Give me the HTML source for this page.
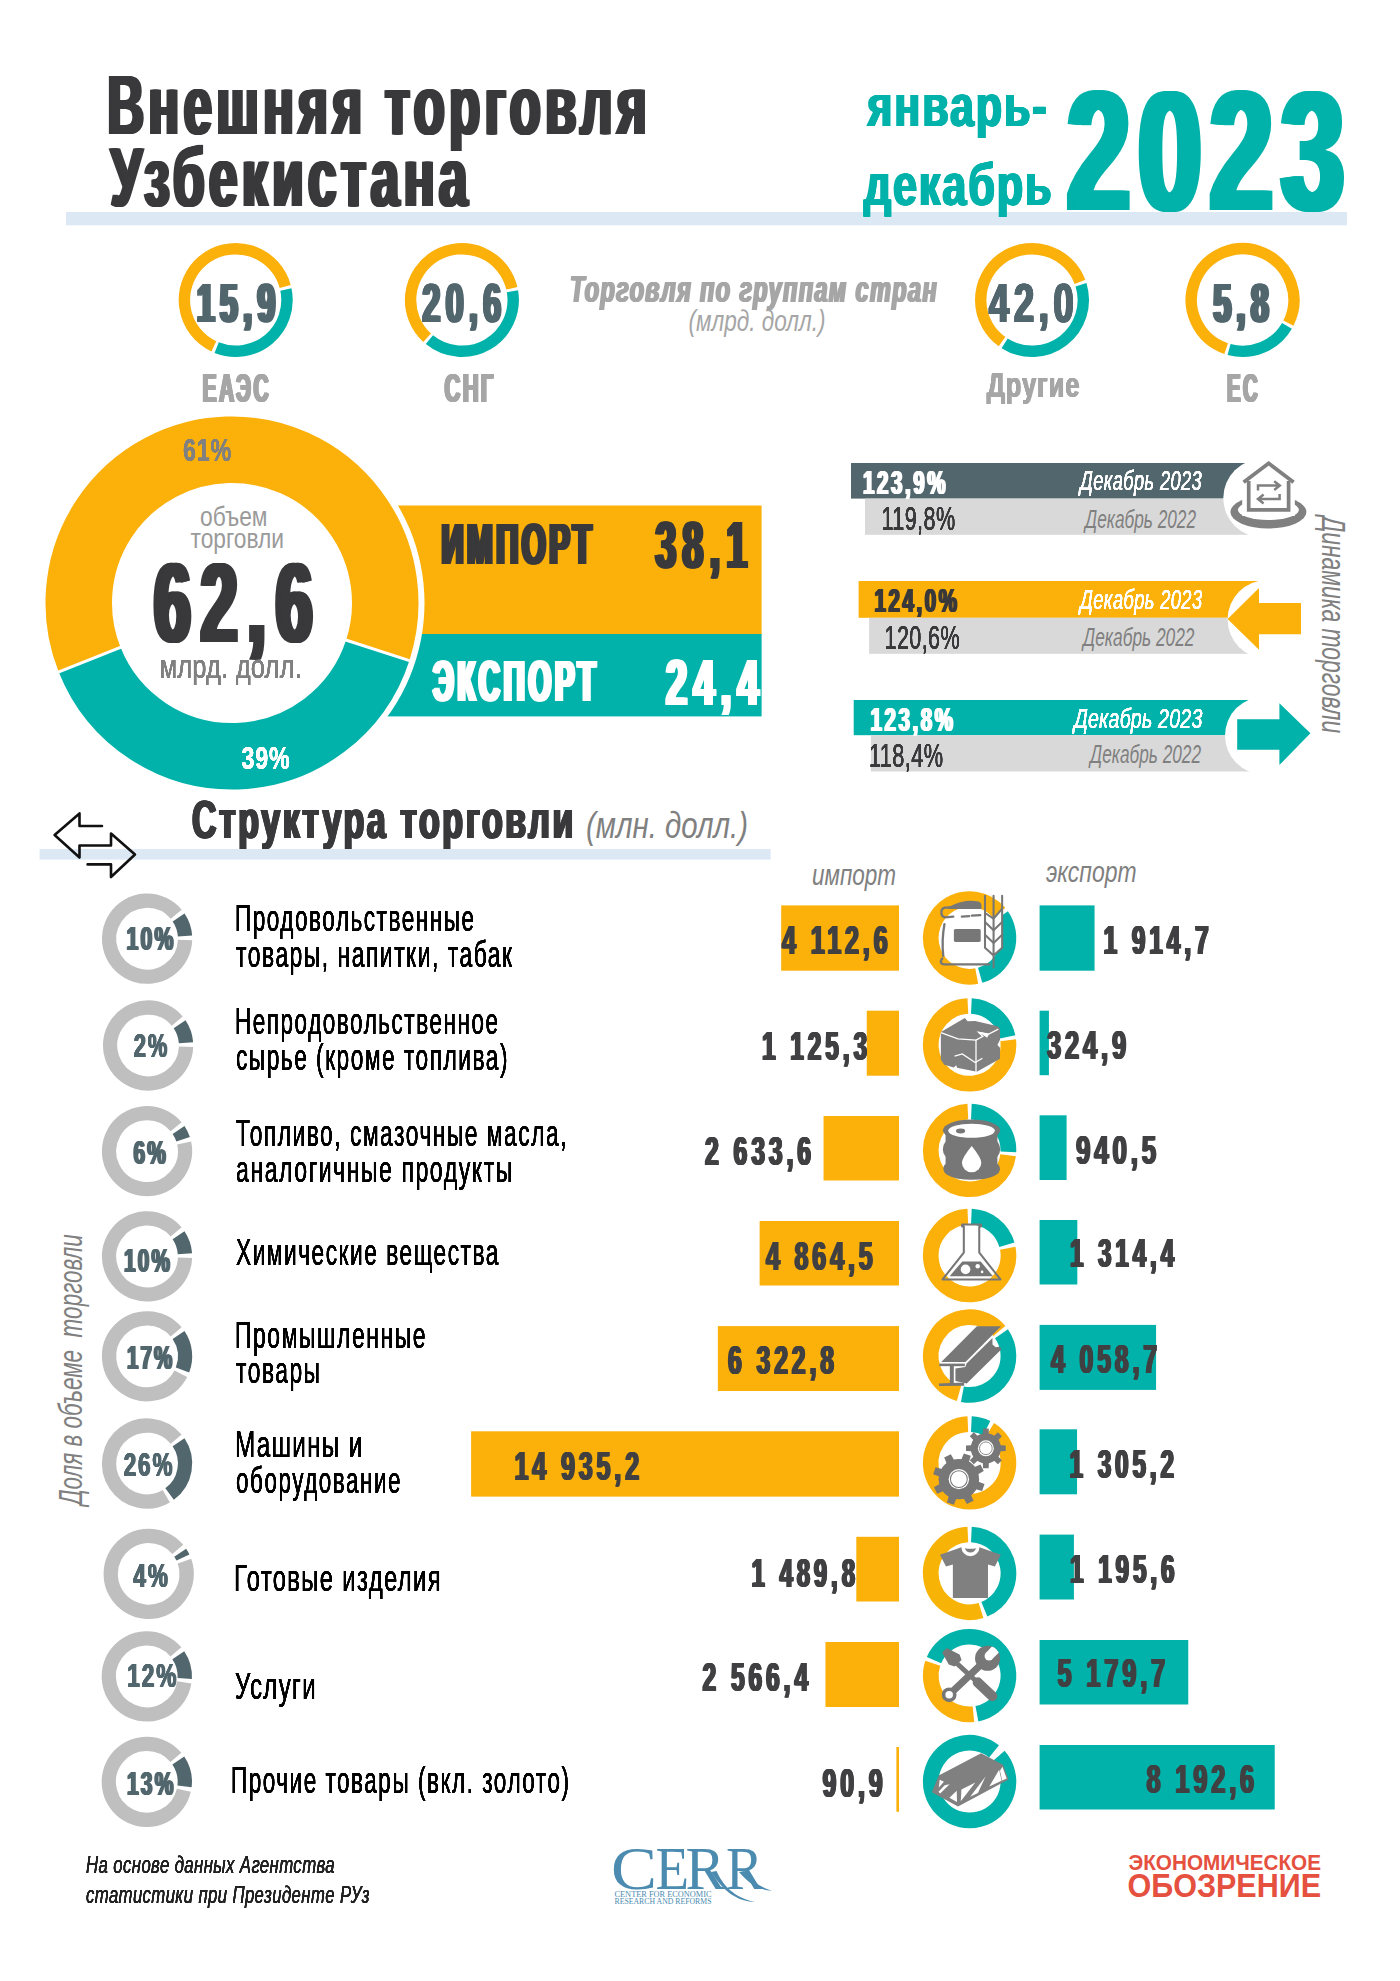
<!DOCTYPE html>
<html lang="ru"><head><meta charset="utf-8"><title>Внешняя торговля Узбекистана</title>
<style>
html,body{margin:0;padding:0;background:#fff;}
body{width:1400px;height:1981px;overflow:hidden;font-family:"Liberation Sans",sans-serif;}
svg{display:block;}
text{white-space:pre;}
</style></head><body>
<svg width="1400" height="1981" viewBox="0 0 1400 1981">
<defs><filter id="d23" x="-5%" width="110%" y="-25%" height="150%" color-interpolation-filters="sRGB"><feOffset in="SourceGraphic" dx="-2.30" result="a"/><feOffset in="SourceGraphic" dx="-1.15" result="b"/><feOffset in="SourceGraphic" dx="1.15" result="c"/><feOffset in="SourceGraphic" dx="2.30" result="e"/><feMerge><feMergeNode in="a"/><feMergeNode in="b"/><feMergeNode in="SourceGraphic"/><feMergeNode in="c"/><feMergeNode in="e"/></feMerge></filter><filter id="d10" x="-5%" width="110%" y="-25%" height="150%" color-interpolation-filters="sRGB"><feOffset in="SourceGraphic" dx="-1.00" result="a"/><feOffset in="SourceGraphic" dx="-0.50" result="b"/><feOffset in="SourceGraphic" dx="0.50" result="c"/><feOffset in="SourceGraphic" dx="1.00" result="e"/><feMerge><feMergeNode in="a"/><feMergeNode in="b"/><feMergeNode in="SourceGraphic"/><feMergeNode in="c"/><feMergeNode in="e"/></feMerge></filter><filter id="d41" x="-5%" width="110%" y="-25%" height="150%" color-interpolation-filters="sRGB"><feOffset in="SourceGraphic" dx="-4.10" result="a"/><feOffset in="SourceGraphic" dx="-2.05" result="b"/><feOffset in="SourceGraphic" dx="2.05" result="c"/><feOffset in="SourceGraphic" dx="4.10" result="e"/><feMerge><feMergeNode in="a"/><feMergeNode in="b"/><feMergeNode in="SourceGraphic"/><feMergeNode in="c"/><feMergeNode in="e"/></feMerge></filter><filter id="d16" x="-5%" width="110%" y="-25%" height="150%" color-interpolation-filters="sRGB"><feOffset in="SourceGraphic" dx="-1.60" result="a"/><feOffset in="SourceGraphic" dx="-0.80" result="b"/><feOffset in="SourceGraphic" dx="0.80" result="c"/><feOffset in="SourceGraphic" dx="1.60" result="e"/><feMerge><feMergeNode in="a"/><feMergeNode in="b"/><feMergeNode in="SourceGraphic"/><feMergeNode in="c"/><feMergeNode in="e"/></feMerge></filter><filter id="d12" x="-5%" width="110%" y="-25%" height="150%" color-interpolation-filters="sRGB"><feOffset in="SourceGraphic" dx="-1.20" result="a"/><feOffset in="SourceGraphic" dx="-0.60" result="b"/><feOffset in="SourceGraphic" dx="0.60" result="c"/><feOffset in="SourceGraphic" dx="1.20" result="e"/><feMerge><feMergeNode in="a"/><feMergeNode in="b"/><feMergeNode in="SourceGraphic"/><feMergeNode in="c"/><feMergeNode in="e"/></feMerge></filter><filter id="d15" x="-5%" width="110%" y="-25%" height="150%" color-interpolation-filters="sRGB"><feOffset in="SourceGraphic" dx="-1.50" result="a"/><feOffset in="SourceGraphic" dx="-0.75" result="b"/><feOffset in="SourceGraphic" dx="0.75" result="c"/><feOffset in="SourceGraphic" dx="1.50" result="e"/><feMerge><feMergeNode in="a"/><feMergeNode in="b"/><feMergeNode in="SourceGraphic"/><feMergeNode in="c"/><feMergeNode in="e"/></feMerge></filter><filter id="d11" x="-5%" width="110%" y="-25%" height="150%" color-interpolation-filters="sRGB"><feOffset in="SourceGraphic" dx="-1.10" result="a"/><feOffset in="SourceGraphic" dx="-0.55" result="b"/><feOffset in="SourceGraphic" dx="0.55" result="c"/><feOffset in="SourceGraphic" dx="1.10" result="e"/><feMerge><feMergeNode in="a"/><feMergeNode in="b"/><feMergeNode in="SourceGraphic"/><feMergeNode in="c"/><feMergeNode in="e"/></feMerge></filter><filter id="d13" x="-5%" width="110%" y="-25%" height="150%" color-interpolation-filters="sRGB"><feOffset in="SourceGraphic" dx="-1.30" result="a"/><feOffset in="SourceGraphic" dx="-0.65" result="b"/><feOffset in="SourceGraphic" dx="0.65" result="c"/><feOffset in="SourceGraphic" dx="1.30" result="e"/><feMerge><feMergeNode in="a"/><feMergeNode in="b"/><feMergeNode in="SourceGraphic"/><feMergeNode in="c"/><feMergeNode in="e"/></feMerge></filter><filter id="d5" x="-5%" width="110%" y="-25%" height="150%" color-interpolation-filters="sRGB"><feOffset in="SourceGraphic" dx="-0.50" result="a"/><feOffset in="SourceGraphic" dx="-0.25" result="b"/><feOffset in="SourceGraphic" dx="0.25" result="c"/><feOffset in="SourceGraphic" dx="0.50" result="e"/><feMerge><feMergeNode in="a"/><feMergeNode in="b"/><feMergeNode in="SourceGraphic"/><feMergeNode in="c"/><feMergeNode in="e"/></feMerge></filter><filter id="d7" x="-5%" width="110%" y="-25%" height="150%" color-interpolation-filters="sRGB"><feOffset in="SourceGraphic" dx="-0.70" result="a"/><feOffset in="SourceGraphic" dx="-0.35" result="b"/><feOffset in="SourceGraphic" dx="0.35" result="c"/><feOffset in="SourceGraphic" dx="0.70" result="e"/><feMerge><feMergeNode in="a"/><feMergeNode in="b"/><feMergeNode in="SourceGraphic"/><feMergeNode in="c"/><feMergeNode in="e"/></feMerge></filter><filter id="d4" x="-5%" width="110%" y="-25%" height="150%" color-interpolation-filters="sRGB"><feOffset in="SourceGraphic" dx="-0.40" result="a"/><feOffset in="SourceGraphic" dx="-0.20" result="b"/><feOffset in="SourceGraphic" dx="0.20" result="c"/><feOffset in="SourceGraphic" dx="0.40" result="e"/><feMerge><feMergeNode in="a"/><feMergeNode in="b"/><feMergeNode in="SourceGraphic"/><feMergeNode in="c"/><feMergeNode in="e"/></feMerge></filter><filter id="d33" x="-5%" width="110%" y="-25%" height="150%" color-interpolation-filters="sRGB"><feOffset in="SourceGraphic" dx="-3.30" result="a"/><feOffset in="SourceGraphic" dx="-1.65" result="b"/><feOffset in="SourceGraphic" dx="1.65" result="c"/><feOffset in="SourceGraphic" dx="3.30" result="e"/><feMerge><feMergeNode in="a"/><feMergeNode in="b"/><feMergeNode in="SourceGraphic"/><feMergeNode in="c"/><feMergeNode in="e"/></feMerge></filter><filter id="d1" x="-5%" width="110%" y="-25%" height="150%" color-interpolation-filters="sRGB"><feOffset in="SourceGraphic" dx="-0.10" result="a"/><feOffset in="SourceGraphic" dx="-0.05" result="b"/><feOffset in="SourceGraphic" dx="0.05" result="c"/><feOffset in="SourceGraphic" dx="0.10" result="e"/><feMerge><feMergeNode in="a"/><feMergeNode in="b"/><feMergeNode in="SourceGraphic"/><feMergeNode in="c"/><feMergeNode in="e"/></feMerge></filter><filter id="d17" x="-5%" width="110%" y="-25%" height="150%" color-interpolation-filters="sRGB"><feOffset in="SourceGraphic" dx="-1.70" result="a"/><feOffset in="SourceGraphic" dx="-0.85" result="b"/><feOffset in="SourceGraphic" dx="0.85" result="c"/><feOffset in="SourceGraphic" dx="1.70" result="e"/><feMerge><feMergeNode in="a"/><feMergeNode in="b"/><feMergeNode in="SourceGraphic"/><feMergeNode in="c"/><feMergeNode in="e"/></feMerge></filter><filter id="d19" x="-5%" width="110%" y="-25%" height="150%" color-interpolation-filters="sRGB"><feOffset in="SourceGraphic" dx="-1.90" result="a"/><feOffset in="SourceGraphic" dx="-0.95" result="b"/><feOffset in="SourceGraphic" dx="0.95" result="c"/><feOffset in="SourceGraphic" dx="1.90" result="e"/><feMerge><feMergeNode in="a"/><feMergeNode in="b"/><feMergeNode in="SourceGraphic"/><feMergeNode in="c"/><feMergeNode in="e"/></feMerge></filter><filter id="d18" x="-5%" width="110%" y="-25%" height="150%" color-interpolation-filters="sRGB"><feOffset in="SourceGraphic" dx="-1.80" result="a"/><feOffset in="SourceGraphic" dx="-0.90" result="b"/><feOffset in="SourceGraphic" dx="0.90" result="c"/><feOffset in="SourceGraphic" dx="1.80" result="e"/><feMerge><feMergeNode in="a"/><feMergeNode in="b"/><feMergeNode in="SourceGraphic"/><feMergeNode in="c"/><feMergeNode in="e"/></feMerge></filter><filter id="d2" x="-5%" width="110%" y="-25%" height="150%" color-interpolation-filters="sRGB"><feOffset in="SourceGraphic" dx="-0.20" result="a"/><feOffset in="SourceGraphic" dx="-0.10" result="b"/><feOffset in="SourceGraphic" dx="0.10" result="c"/><feOffset in="SourceGraphic" dx="0.20" result="e"/><feMerge><feMergeNode in="a"/><feMergeNode in="b"/><feMergeNode in="SourceGraphic"/><feMergeNode in="c"/><feMergeNode in="e"/></feMerge></filter><filter id="d6" x="-5%" width="110%" y="-25%" height="150%" color-interpolation-filters="sRGB"><feOffset in="SourceGraphic" dx="-0.60" result="a"/><feOffset in="SourceGraphic" dx="-0.30" result="b"/><feOffset in="SourceGraphic" dx="0.30" result="c"/><feOffset in="SourceGraphic" dx="0.60" result="e"/><feMerge><feMergeNode in="a"/><feMergeNode in="b"/><feMergeNode in="SourceGraphic"/><feMergeNode in="c"/><feMergeNode in="e"/></feMerge></filter><filter id="d9" x="-5%" width="110%" y="-25%" height="150%" color-interpolation-filters="sRGB"><feOffset in="SourceGraphic" dx="-0.90" result="a"/><feOffset in="SourceGraphic" dx="-0.45" result="b"/><feOffset in="SourceGraphic" dx="0.45" result="c"/><feOffset in="SourceGraphic" dx="0.90" result="e"/><feMerge><feMergeNode in="a"/><feMergeNode in="b"/><feMergeNode in="SourceGraphic"/><feMergeNode in="c"/><feMergeNode in="e"/></feMerge></filter><filter id="d3" x="-5%" width="110%" y="-25%" height="150%" color-interpolation-filters="sRGB"><feOffset in="SourceGraphic" dx="-0.30" result="a"/><feOffset in="SourceGraphic" dx="-0.15" result="b"/><feOffset in="SourceGraphic" dx="0.15" result="c"/><feOffset in="SourceGraphic" dx="0.30" result="e"/><feMerge><feMergeNode in="a"/><feMergeNode in="b"/><feMergeNode in="SourceGraphic"/><feMergeNode in="c"/><feMergeNode in="e"/></feMerge></filter></defs>
<rect width="1400" height="1981" fill="#ffffff"/>
<g id="header">
<rect x="66.00" y="212.00" width="1281.00" height="13.30" fill="#dce9f5"/>
<text id="t0" x="107.50" y="134.00" font-family="&quot;Liberation Sans&quot;, sans-serif" font-size="84.30" font-weight="bold" font-style="normal" fill="#39393b" textLength="543.50" lengthAdjust="spacingAndGlyphs" letter-spacing="7.67" filter="url(#d23)">Внешняя торговля</text>
<text id="t1" x="110.50" y="206.00" font-family="&quot;Liberation Sans&quot;, sans-serif" font-size="84.30" font-weight="bold" font-style="normal" fill="#39393b" textLength="361.50" lengthAdjust="spacingAndGlyphs" letter-spacing="7.60" filter="url(#d23)">Узбекистана</text>
<text id="t2" x="867.30" y="125.70" font-family="&quot;Liberation Sans&quot;, sans-serif" font-size="58.60" font-weight="bold" font-style="normal" fill="#00b2a9" textLength="181.30" lengthAdjust="spacingAndGlyphs" letter-spacing="2.73" filter="url(#d10)">январь-</text>
<text id="t3" x="863.70" y="204.60" font-family="&quot;Liberation Sans&quot;, sans-serif" font-size="58.60" font-weight="bold" font-style="normal" fill="#00b2a9" textLength="189.70" lengthAdjust="spacingAndGlyphs" letter-spacing="2.73" filter="url(#d10)">декабрь</text>
<text id="t4" x="1067.00" y="210.10" font-family="&quot;Liberation Sans&quot;, sans-serif" font-size="171.50" font-weight="bold" font-style="normal" fill="#00b2a9" textLength="285.50" lengthAdjust="spacingAndGlyphs" letter-spacing="12.38" filter="url(#d41)">2023</text>
</g>
<g id="groups">
<path d="M285.92,289.51 A51.30,51.30 0 0 1 216.65,347.63" fill="none" stroke="#00b2a9" stroke-width="11.40"/>
<path d="M213.86,346.42 A51.30,51.30 0 1 1 285.21,286.55" fill="none" stroke="#fbb00a" stroke-width="11.40"/>
<text id="t5" x="197.00" y="322.00" font-family="&quot;Liberation Sans&quot;, sans-serif" font-size="55.90" font-weight="bold" font-style="normal" fill="#52666d" textLength="83.50" lengthAdjust="spacingAndGlyphs" letter-spacing="9.58" filter="url(#d16)">15,9</text>
<text id="t6" x="202.50" y="402.30" font-family="&quot;Liberation Sans&quot;, sans-serif" font-size="40.70" font-weight="bold" font-style="normal" fill="#a6a6a6" textLength="68.50" lengthAdjust="spacingAndGlyphs" letter-spacing="4.64" filter="url(#d12)">ЕАЭС</text>
<path d="M512.45,291.27 A51.30,51.30 0 0 1 429.41,339.70" fill="none" stroke="#00b2a9" stroke-width="11.40"/>
<path d="M427.11,337.70 A51.30,51.30 0 1 1 511.84,288.29" fill="none" stroke="#fbb00a" stroke-width="11.40"/>
<text id="t7" x="422.00" y="322.00" font-family="&quot;Liberation Sans&quot;, sans-serif" font-size="55.90" font-weight="bold" font-style="normal" fill="#52666d" textLength="84.00" lengthAdjust="spacingAndGlyphs" letter-spacing="9.03" filter="url(#d15)">20,6</text>
<text id="t8" x="444.50" y="402.30" font-family="&quot;Liberation Sans&quot;, sans-serif" font-size="40.70" font-weight="bold" font-style="normal" fill="#a6a6a6" textLength="51.00" lengthAdjust="spacingAndGlyphs" letter-spacing="4.06" filter="url(#d11)">СНГ</text>
<path d="M1080.98,284.74 A51.30,51.30 0 0 1 1004.59,343.36" fill="none" stroke="#00b2a9" stroke-width="11.40"/>
<path d="M1002.06,341.66 A51.30,51.30 0 1 1 1079.99,281.87" fill="none" stroke="#fbb00a" stroke-width="11.40"/>
<text id="t9" x="989.00" y="322.00" font-family="&quot;Liberation Sans&quot;, sans-serif" font-size="55.90" font-weight="bold" font-style="normal" fill="#52666d" textLength="89.50" lengthAdjust="spacingAndGlyphs" letter-spacing="7.50" filter="url(#d13)">42,0</text>
<text id="t10" x="986.50" y="396.60" font-family="&quot;Liberation Sans&quot;, sans-serif" font-size="35.30" font-weight="bold" font-style="normal" fill="#a6a6a6" textLength="93.50" lengthAdjust="spacingAndGlyphs" letter-spacing="1.39" filter="url(#d5)">Другие</text>
<path d="M1286.94,325.80 A51.30,51.30 0 0 1 1229.06,349.48" fill="none" stroke="#00b2a9" stroke-width="11.40"/>
<path d="M1226.15,348.59 A51.30,51.30 0 1 1 1288.39,323.13" fill="none" stroke="#fbb00a" stroke-width="11.40"/>
<text id="t11" x="1213.50" y="322.00" font-family="&quot;Liberation Sans&quot;, sans-serif" font-size="55.90" font-weight="bold" font-style="normal" fill="#52666d" textLength="60.50" lengthAdjust="spacingAndGlyphs" letter-spacing="9.56" filter="url(#d16)">5,8</text>
<text id="t12" x="1227.00" y="402.30" font-family="&quot;Liberation Sans&quot;, sans-serif" font-size="40.70" font-weight="bold" font-style="normal" fill="#a6a6a6" textLength="33.00" lengthAdjust="spacingAndGlyphs" letter-spacing="4.81" filter="url(#d12)">ЕС</text>
<text id="t13" x="570.00" y="301.60" font-family="&quot;Liberation Sans&quot;, sans-serif" font-size="36.30" font-weight="bold" font-style="italic" fill="#a6a6a6" textLength="368.00" lengthAdjust="spacingAndGlyphs" letter-spacing="2.17" filter="url(#d7)">Торговля по группам стран</text>
<text id="t14" x="688.50" y="331.00" font-family="&quot;Liberation Sans&quot;, sans-serif" font-size="29.00" font-weight="normal" font-style="italic" fill="#a6a6a6" textLength="137.00" lengthAdjust="spacingAndGlyphs">(млрд. долл.)</text>
</g>
<g id="total">
<rect x="380.00" y="505.50" width="381.60" height="128.50" fill="#fbb00a"/>
<rect x="380.00" y="634.00" width="381.60" height="82.40" fill="#00b2a9"/>
<circle cx="232" cy="603" r="192.5" fill="#fff"/>
<path d="M377.75,650.36 A153.25,153.25 0 0 1 89.61,659.66" fill="none" stroke="#00b2a9" stroke-width="66.50"/>
<path d="M89.61,659.66 A153.25,153.25 0 1 1 377.75,650.36" fill="none" stroke="#fbb00a" stroke-width="66.50"/>
<line x1="344.22" y1="639.46" x2="411.75" y2="661.40" stroke="#fff" stroke-width="3"/>
<line x1="122.36" y1="646.63" x2="56.39" y2="672.88" stroke="#fff" stroke-width="3"/>
<text id="t15" x="183.00" y="461.00" font-family="&quot;Liberation Sans&quot;, sans-serif" font-size="32.20" font-weight="bold" font-style="normal" fill="#808080" textLength="49.00" lengthAdjust="spacingAndGlyphs" letter-spacing="1.11" filter="url(#d4)">61%</text>
<text id="t16" x="241.50" y="769.00" font-family="&quot;Liberation Sans&quot;, sans-serif" font-size="32.20" font-weight="bold" font-style="normal" fill="#ffffff" textLength="49.00" lengthAdjust="spacingAndGlyphs" letter-spacing="1.11" filter="url(#d4)">39%</text>
<text id="t17" x="200.00" y="525.50" font-family="&quot;Liberation Sans&quot;, sans-serif" font-size="27.50" font-weight="normal" font-style="normal" fill="#9a9a9a" textLength="67.50" lengthAdjust="spacingAndGlyphs">объем</text>
<text id="t18" x="190.50" y="548.00" font-family="&quot;Liberation Sans&quot;, sans-serif" font-size="28.40" font-weight="normal" font-style="normal" fill="#9a9a9a" textLength="93.50" lengthAdjust="spacingAndGlyphs">торговли</text>
<text id="t19" x="154.00" y="641.80" font-family="&quot;Liberation Sans&quot;, sans-serif" font-size="112.50" font-weight="bold" font-style="normal" fill="#39393b" textLength="168.50" lengthAdjust="spacingAndGlyphs" letter-spacing="16.98" filter="url(#d33)">62,6</text>
<text id="t20" x="159.50" y="678.00" font-family="&quot;Liberation Sans&quot;, sans-serif" font-size="33.10" font-weight="normal" font-style="normal" fill="#808080" textLength="142.50" lengthAdjust="spacingAndGlyphs" letter-spacing="0.26" filter="url(#d1)">млрд. долл.</text>
<text id="t21" x="441.50" y="564.00" font-family="&quot;Liberation Sans&quot;, sans-serif" font-size="57.60" font-weight="bold" font-style="normal" fill="#39393b" textLength="153.50" lengthAdjust="spacingAndGlyphs" letter-spacing="6.35" filter="url(#d17)">ИМПОРТ</text>
<text id="t22" x="655.50" y="568.00" font-family="&quot;Liberation Sans&quot;, sans-serif" font-size="65.90" font-weight="bold" font-style="normal" fill="#39393b" textLength="98.00" lengthAdjust="spacingAndGlyphs" letter-spacing="11.42" filter="url(#d19)">38,1</text>
<text id="t23" x="433.00" y="701.40" font-family="&quot;Liberation Sans&quot;, sans-serif" font-size="58.10" font-weight="bold" font-style="normal" fill="#fff" textLength="166.50" lengthAdjust="spacingAndGlyphs" letter-spacing="7.56" filter="url(#d19)">ЭКСПОРТ</text>
<text id="t24" x="666.00" y="705.00" font-family="&quot;Liberation Sans&quot;, sans-serif" font-size="65.30" font-weight="bold" font-style="normal" fill="#fff" textLength="99.00" lengthAdjust="spacingAndGlyphs" letter-spacing="10.65" filter="url(#d18)">24,4</text>
</g>
<g id="dynamics">
<rect x="851.00" y="463.00" width="411.00" height="35.60" fill="#52666d"/>
<rect x="865.00" y="498.60" width="397.00" height="36.20" fill="#d9d9d9"/>
<circle cx="1262.6" cy="498.1" r="39.3" fill="#fff"/>
<rect x="858.60" y="581.00" width="407.40" height="36.80" fill="#fbb00a"/>
<rect x="869.10" y="617.80" width="396.90" height="36.00" fill="#d9d9d9"/>
<circle cx="1267.1" cy="619.4" r="39.5" fill="#fff"/>
<rect x="853.70" y="700.00" width="409.30" height="35.20" fill="#00b2a9"/>
<rect x="870.90" y="735.20" width="392.10" height="36.30" fill="#d9d9d9"/>
<circle cx="1263.9" cy="735.6" r="38.9" fill="#fff"/>
<text id="t25" x="863.00" y="494.00" font-family="&quot;Liberation Sans&quot;, sans-serif" font-size="33.50" font-weight="bold" font-style="normal" fill="#fff" textLength="85.00" lengthAdjust="spacingAndGlyphs" letter-spacing="4.20" filter="url(#d7)">123,9%</text>
<text id="t26" x="881.50" y="529.50" font-family="&quot;Liberation Sans&quot;, sans-serif" font-size="32.80" font-weight="normal" font-style="normal" fill="#39393b" textLength="74.00" lengthAdjust="spacingAndGlyphs" letter-spacing="0.61" filter="url(#d2)">119,8%</text>
<text id="t27" x="1080.00" y="490.40" font-family="&quot;Liberation Sans&quot;, sans-serif" font-size="28.20" font-weight="normal" font-style="italic" fill="#fff" textLength="122.00" lengthAdjust="spacingAndGlyphs" letter-spacing="0.62" filter="url(#d2)">Декабрь 2023</text>
<text id="t28" x="1085.00" y="528.30" font-family="&quot;Liberation Sans&quot;, sans-serif" font-size="25.60" font-weight="normal" font-style="italic" fill="#808080" textLength="111.00" lengthAdjust="spacingAndGlyphs">Декабрь 2022</text>
<text id="t29" x="874.50" y="611.60" font-family="&quot;Liberation Sans&quot;, sans-serif" font-size="33.50" font-weight="bold" font-style="normal" fill="#39393b" textLength="85.00" lengthAdjust="spacingAndGlyphs" letter-spacing="4.20" filter="url(#d7)">124,0%</text>
<text id="t30" x="884.50" y="648.60" font-family="&quot;Liberation Sans&quot;, sans-serif" font-size="32.80" font-weight="normal" font-style="normal" fill="#39393b" textLength="75.50" lengthAdjust="spacingAndGlyphs" letter-spacing="0.61" filter="url(#d2)">120,6%</text>
<text id="t31" x="1080.00" y="608.60" font-family="&quot;Liberation Sans&quot;, sans-serif" font-size="28.20" font-weight="normal" font-style="italic" fill="#fff" textLength="122.50" lengthAdjust="spacingAndGlyphs" letter-spacing="0.62" filter="url(#d2)">Декабрь 2023</text>
<text id="t32" x="1083.00" y="645.70" font-family="&quot;Liberation Sans&quot;, sans-serif" font-size="25.60" font-weight="normal" font-style="italic" fill="#808080" textLength="111.50" lengthAdjust="spacingAndGlyphs">Декабрь 2022</text>
<text id="t33" x="870.50" y="730.80" font-family="&quot;Liberation Sans&quot;, sans-serif" font-size="33.50" font-weight="bold" font-style="normal" fill="#fff" textLength="85.00" lengthAdjust="spacingAndGlyphs" letter-spacing="4.20" filter="url(#d7)">123,8%</text>
<text id="t34" x="869.00" y="767.10" font-family="&quot;Liberation Sans&quot;, sans-serif" font-size="32.80" font-weight="normal" font-style="normal" fill="#39393b" textLength="74.50" lengthAdjust="spacingAndGlyphs" letter-spacing="0.60" filter="url(#d2)">118,4%</text>
<text id="t35" x="1074.00" y="728.00" font-family="&quot;Liberation Sans&quot;, sans-serif" font-size="28.20" font-weight="normal" font-style="italic" fill="#fff" textLength="128.50" lengthAdjust="spacingAndGlyphs" letter-spacing="0.29" filter="url(#d1)">Декабрь 2023</text>
<text id="t36" x="1090.00" y="762.90" font-family="&quot;Liberation Sans&quot;, sans-serif" font-size="25.60" font-weight="normal" font-style="italic" fill="#808080" textLength="111.00" lengthAdjust="spacingAndGlyphs">Декабрь 2022</text>
<polygon points="1227.6,618.9 1259,588 1259,603.1 1301,603.1 1301,634.3 1259,634.3 1259,649.8" fill="#fbb00a"/>
<polygon points="1310.4,733.3 1279.4,703.3 1279.4,719.3 1237.2,719.3 1237.2,749.7 1279.4,749.7 1279.4,765.1" fill="#00b2a9"/>
<g id="house" fill="none" stroke="#808080">
<ellipse cx="1268.4" cy="512" rx="38" ry="16.5" fill="#808080" stroke="none"/>
<ellipse cx="1268.4" cy="509.8" rx="30.5" ry="10.2" fill="#fff" stroke="none"/>
<path d="M1240,483.5 L1268.7,459 L1297,483.5 L1292.3,483.5 L1292.3,513.5 L1244.7,513.5 L1244.7,483.5 Z" fill="#fff" stroke="#fff" stroke-width="5"/>
<path d="M1243.6,482.3 L1268.65,463.3 L1293.6,482.3" stroke-width="3.8" stroke-linejoin="miter" stroke-linecap="butt"/>
<path d="M1248.7,481 L1248.7,509.9 L1288.6,509.9 L1288.6,481" stroke-width="3.7"/>
<path d="M1258,490.5 L1258,485.6 L1279,485.6 M1274.2,481.2 L1279.8,485.6 L1274.2,490" stroke-width="2.5"/>
<path d="M1279.6,494 L1279.6,499 L1258.6,499 M1263.6,494.6 L1258,499 L1263.6,503.4" stroke-width="2.5"/>
</g>
<text id="t37" x="2.00" y="0.00" font-family="&quot;Liberation Sans&quot;, sans-serif" font-size="34.00" font-weight="normal" font-style="italic" fill="#808080" textLength="217.00" lengthAdjust="spacingAndGlyphs" transform="translate(1322.2,514.2) rotate(90)">Динамика торговли</text>
</g>
<g id="structure">
<rect x="39.60" y="849.00" width="731.00" height="10.60" fill="#dce9f5"/>
<path d="M102,826 L79.5,826 L79.5,813.4 L54.6,835 L79.5,857.5 L79.5,845.5 L111,845.5 L111,833.5 L135,854.5 L111,877 L111,864.4 L87.6,864.4" fill="none" stroke="#111" stroke-width="2.6" stroke-linejoin="round" stroke-linecap="round"/>
<text id="t38" x="192.00" y="838.00" font-family="&quot;Liberation Sans&quot;, sans-serif" font-size="54.50" font-weight="bold" font-style="normal" fill="#39393b" textLength="384.00" lengthAdjust="spacingAndGlyphs" letter-spacing="4.17" filter="url(#d13)">Структура торговли</text>
<text id="t39" x="586.00" y="838.00" font-family="&quot;Liberation Sans&quot;, sans-serif" font-size="36.00" font-weight="normal" font-style="italic" fill="#808080" textLength="162.00" lengthAdjust="spacingAndGlyphs">(млн. долл.)</text>
<text id="t40" x="812.00" y="884.50" font-family="&quot;Liberation Sans&quot;, sans-serif" font-size="30.30" font-weight="normal" font-style="italic" fill="#808080" textLength="84.00" lengthAdjust="spacingAndGlyphs">импорт</text>
<text id="t41" x="1046.00" y="882.40" font-family="&quot;Liberation Sans&quot;, sans-serif" font-size="30.30" font-weight="normal" font-style="italic" fill="#808080" textLength="90.50" lengthAdjust="spacingAndGlyphs">экспорт</text>
<text id="t42" x="2.00" y="0.00" font-family="&quot;Liberation Sans&quot;, sans-serif" font-size="33.00" font-weight="normal" font-style="italic" fill="#808080" textLength="271.00" lengthAdjust="spacingAndGlyphs" transform="translate(81.5,1507.3) rotate(-90)">Доля в объеме  торговли</text>
<g id="row1">
<path d="M185.08,940.03 A38.00,38.00 0 1 1 176.21,914.27" fill="none" stroke="#bfbfbf" stroke-width="14.30"/>
<path d="M178.60,917.45 A38.00,38.00 0 0 1 185.01,936.05" fill="none" stroke="#52666d" stroke-width="14.30"/>
<text id="t43" x="126.50" y="949.90" font-family="&quot;Liberation Sans&quot;, sans-serif" font-size="32.40" font-weight="bold" font-style="normal" fill="#52666d" textLength="49.00" lengthAdjust="spacingAndGlyphs" letter-spacing="3.32" filter="url(#d6)">10%</text>
<text id="t44" x="235.00" y="931.40" font-family="&quot;Liberation Sans&quot;, sans-serif" font-size="36.20" font-weight="normal" font-style="normal" fill="#000" textLength="240.50" lengthAdjust="spacingAndGlyphs" letter-spacing="2.45" filter="url(#d4)">Продовольственные</text>
<text id="t45" x="236.00" y="967.10" font-family="&quot;Liberation Sans&quot;, sans-serif" font-size="36.20" font-weight="normal" font-style="normal" fill="#000" textLength="277.50" lengthAdjust="spacingAndGlyphs" letter-spacing="2.41" filter="url(#d4)">товары, напитки, табак</text>
<rect x="781.17" y="905.40" width="117.83" height="65.30" fill="#fbb00a"/>
<rect x="1039.60" y="905.40" width="54.95" height="65.30" fill="#00b2a9"/>
<path d="M1001.46,915.67 A38.85,38.85 0 0 1 980.14,975.29" fill="none" stroke="#00b2a9" stroke-width="15.70"/>
<path d="M976.71,976.09 A38.85,38.85 0 1 1 999.32,912.88" fill="none" stroke="#fbb00a" stroke-width="15.70"/>
<text id="t46" x="782.00" y="954.30" font-family="&quot;Liberation Sans&quot;, sans-serif" font-size="40.60" font-weight="bold" font-style="normal" fill="#404042" textLength="109.50" lengthAdjust="spacingAndGlyphs" letter-spacing="6.17" filter="url(#d9)">4 112,6</text>
<text id="t47" x="1103.50" y="953.60" font-family="&quot;Liberation Sans&quot;, sans-serif" font-size="40.60" font-weight="bold" font-style="normal" fill="#404042" textLength="109.00" lengthAdjust="spacingAndGlyphs" letter-spacing="6.76" filter="url(#d10)">1 914,7</text>
</g>
<g id="row2">
<path d="M186.08,1046.83 A38.00,38.00 0 1 1 177.21,1021.07" fill="none" stroke="#bfbfbf" stroke-width="14.30"/>
<path d="M179.60,1024.25 A38.00,38.00 0 0 1 186.01,1042.85" fill="none" stroke="#52666d" stroke-width="14.30"/>
<text id="t48" x="133.50" y="1057.40" font-family="&quot;Liberation Sans&quot;, sans-serif" font-size="32.40" font-weight="bold" font-style="normal" fill="#52666d" textLength="35.50" lengthAdjust="spacingAndGlyphs" letter-spacing="2.93" filter="url(#d5)">2%</text>
<text id="t49" x="235.00" y="1034.30" font-family="&quot;Liberation Sans&quot;, sans-serif" font-size="36.20" font-weight="normal" font-style="normal" fill="#000" textLength="264.50" lengthAdjust="spacingAndGlyphs" letter-spacing="2.45" filter="url(#d4)">Непродовольственное</text>
<text id="t50" x="236.00" y="1070.00" font-family="&quot;Liberation Sans&quot;, sans-serif" font-size="36.20" font-weight="normal" font-style="normal" fill="#000" textLength="273.00" lengthAdjust="spacingAndGlyphs" letter-spacing="2.43" filter="url(#d4)">сырье (кроме топлива)</text>
<rect x="866.76" y="1010.70" width="32.24" height="65.00" fill="#fbb00a"/>
<rect x="1039.60" y="1010.70" width="9.32" height="64.50" fill="#00b2a9"/>
<path d="M971.36,1005.99 A38.85,38.85 0 0 1 1007.61,1036.76" fill="none" stroke="#00b2a9" stroke-width="15.70"/>
<path d="M1008.18,1040.24 A38.85,38.85 0 1 1 967.84,1005.99" fill="none" stroke="#fbb00a" stroke-width="15.70"/>
<text id="t51" x="762.00" y="1059.80" font-family="&quot;Liberation Sans&quot;, sans-serif" font-size="40.60" font-weight="bold" font-style="normal" fill="#404042" textLength="109.00" lengthAdjust="spacingAndGlyphs" letter-spacing="6.76" filter="url(#d10)">1 125,3</text>
<text id="t52" x="1047.00" y="1059.20" font-family="&quot;Liberation Sans&quot;, sans-serif" font-size="40.60" font-weight="bold" font-style="normal" fill="#404042" textLength="83.00" lengthAdjust="spacingAndGlyphs" letter-spacing="6.09" filter="url(#d9)">324,9</text>
</g>
<g id="row3">
<path d="M184.16,1143.04 A38.00,38.00 0 1 1 176.16,1126.77" fill="none" stroke="#bfbfbf" stroke-width="14.30"/>
<path d="M178.55,1129.95 A38.00,38.00 0 0 1 183.11,1139.21" fill="none" stroke="#52666d" stroke-width="14.30"/>
<text id="t53" x="133.50" y="1163.60" font-family="&quot;Liberation Sans&quot;, sans-serif" font-size="32.40" font-weight="bold" font-style="normal" fill="#52666d" textLength="34.50" lengthAdjust="spacingAndGlyphs" letter-spacing="3.37" filter="url(#d6)">6%</text>
<text id="t54" x="236.00" y="1145.80" font-family="&quot;Liberation Sans&quot;, sans-serif" font-size="36.20" font-weight="normal" font-style="normal" fill="#000" textLength="332.00" lengthAdjust="spacingAndGlyphs" letter-spacing="2.42" filter="url(#d4)">Топливо, смазочные масла,</text>
<text id="t55" x="236.00" y="1181.60" font-family="&quot;Liberation Sans&quot;, sans-serif" font-size="36.20" font-weight="normal" font-style="normal" fill="#000" textLength="278.00" lengthAdjust="spacingAndGlyphs" letter-spacing="2.39" filter="url(#d4)">аналогичные продукты</text>
<rect x="823.55" y="1116.00" width="75.45" height="64.50" fill="#fbb00a"/>
<rect x="1039.60" y="1115.30" width="26.99" height="64.70" fill="#00b2a9"/>
<path d="M971.36,1111.59 A38.85,38.85 0 0 1 1008.42,1151.84" fill="none" stroke="#00b2a9" stroke-width="15.70"/>
<path d="M1008.13,1155.36 A38.85,38.85 0 1 1 967.84,1111.59" fill="none" stroke="#fbb00a" stroke-width="15.70"/>
<text id="t56" x="705.00" y="1164.80" font-family="&quot;Liberation Sans&quot;, sans-serif" font-size="40.60" font-weight="bold" font-style="normal" fill="#404042" textLength="110.00" lengthAdjust="spacingAndGlyphs" letter-spacing="6.67" filter="url(#d10)">2 633,6</text>
<text id="t57" x="1076.00" y="1163.50" font-family="&quot;Liberation Sans&quot;, sans-serif" font-size="40.60" font-weight="bold" font-style="normal" fill="#404042" textLength="84.00" lengthAdjust="spacingAndGlyphs" letter-spacing="6.00" filter="url(#d9)">940,5</text>
</g>
<g id="row4">
<path d="M185.03,1257.73 A38.00,38.00 0 1 1 176.16,1231.97" fill="none" stroke="#bfbfbf" stroke-width="14.30"/>
<path d="M178.55,1235.15 A38.00,38.00 0 0 1 184.96,1253.75" fill="none" stroke="#52666d" stroke-width="14.30"/>
<text id="t58" x="124.00" y="1271.50" font-family="&quot;Liberation Sans&quot;, sans-serif" font-size="32.40" font-weight="bold" font-style="normal" fill="#52666d" textLength="48.00" lengthAdjust="spacingAndGlyphs" letter-spacing="3.40" filter="url(#d6)">10%</text>
<text id="t59" x="236.00" y="1265.00" font-family="&quot;Liberation Sans&quot;, sans-serif" font-size="36.20" font-weight="normal" font-style="normal" fill="#000" textLength="264.00" lengthAdjust="spacingAndGlyphs" letter-spacing="2.43" filter="url(#d4)">Химические вещества</text>
<rect x="759.63" y="1221.00" width="139.37" height="64.50" fill="#fbb00a"/>
<rect x="1039.60" y="1220.00" width="37.72" height="64.50" fill="#00b2a9"/>
<path d="M971.36,1216.69 A38.85,38.85 0 0 1 1006.94,1244.78" fill="none" stroke="#00b2a9" stroke-width="15.70"/>
<path d="M1007.76,1248.21 A38.85,38.85 0 1 1 967.84,1216.69" fill="none" stroke="#fbb00a" stroke-width="15.70"/>
<text id="t60" x="766.00" y="1269.60" font-family="&quot;Liberation Sans&quot;, sans-serif" font-size="40.60" font-weight="bold" font-style="normal" fill="#404042" textLength="110.50" lengthAdjust="spacingAndGlyphs" letter-spacing="6.20" filter="url(#d9)">4 864,5</text>
<text id="t61" x="1070.00" y="1267.00" font-family="&quot;Liberation Sans&quot;, sans-serif" font-size="40.60" font-weight="bold" font-style="normal" fill="#404042" textLength="108.00" lengthAdjust="spacingAndGlyphs" letter-spacing="6.84" filter="url(#d10)">1 314,4</text>
</g>
<g id="row5">
<path d="M180.85,1373.67 A38.00,38.00 0 1 1 176.16,1331.87" fill="none" stroke="#bfbfbf" stroke-width="14.30"/>
<path d="M178.55,1335.05 A38.00,38.00 0 0 1 182.48,1370.04" fill="none" stroke="#52666d" stroke-width="14.30"/>
<text id="t62" x="127.00" y="1369.40" font-family="&quot;Liberation Sans&quot;, sans-serif" font-size="32.40" font-weight="bold" font-style="normal" fill="#52666d" textLength="47.50" lengthAdjust="spacingAndGlyphs" letter-spacing="3.44" filter="url(#d6)">17%</text>
<text id="t63" x="235.00" y="1347.50" font-family="&quot;Liberation Sans&quot;, sans-serif" font-size="36.20" font-weight="normal" font-style="normal" fill="#000" textLength="192.00" lengthAdjust="spacingAndGlyphs" letter-spacing="2.40" filter="url(#d4)">Промышленные</text>
<text id="t64" x="236.00" y="1382.50" font-family="&quot;Liberation Sans&quot;, sans-serif" font-size="36.20" font-weight="normal" font-style="normal" fill="#000" textLength="85.50" lengthAdjust="spacingAndGlyphs" letter-spacing="2.42" filter="url(#d4)">товары</text>
<rect x="717.85" y="1326.10" width="181.15" height="64.90" fill="#fbb00a"/>
<rect x="1039.60" y="1324.90" width="116.48" height="65.00" fill="#00b2a9"/>
<path d="M1001.46,1333.77 A38.85,38.85 0 0 1 962.42,1394.18" fill="none" stroke="#00b2a9" stroke-width="15.70"/>
<path d="M958.99,1393.37 A38.85,38.85 0 1 1 999.32,1330.98" fill="none" stroke="#fbb00a" stroke-width="15.70"/>
<text id="t65" x="728.00" y="1373.50" font-family="&quot;Liberation Sans&quot;, sans-serif" font-size="40.60" font-weight="bold" font-style="normal" fill="#404042" textLength="110.00" lengthAdjust="spacingAndGlyphs" letter-spacing="6.67" filter="url(#d10)">6 322,8</text>
<text id="t66" x="1051.00" y="1373.20" font-family="&quot;Liberation Sans&quot;, sans-serif" font-size="40.60" font-weight="bold" font-style="normal" fill="#404042" textLength="110.00" lengthAdjust="spacingAndGlyphs" letter-spacing="6.67" filter="url(#d10)">4 058,7</text>
</g>
<g id="row6">
<path d="M166.28,1496.28 A38.00,38.00 0 1 1 176.16,1439.07" fill="none" stroke="#bfbfbf" stroke-width="14.30"/>
<path d="M178.55,1442.25 A38.00,38.00 0 0 1 169.60,1494.09" fill="none" stroke="#52666d" stroke-width="14.30"/>
<text id="t67" x="123.50" y="1475.60" font-family="&quot;Liberation Sans&quot;, sans-serif" font-size="32.40" font-weight="bold" font-style="normal" fill="#52666d" textLength="50.50" lengthAdjust="spacingAndGlyphs" letter-spacing="2.87" filter="url(#d5)">26%</text>
<text id="t68" x="235.00" y="1457.20" font-family="&quot;Liberation Sans&quot;, sans-serif" font-size="36.20" font-weight="normal" font-style="normal" fill="#000" textLength="128.50" lengthAdjust="spacingAndGlyphs" letter-spacing="1.98" filter="url(#d3)">Машины и</text>
<text id="t69" x="236.00" y="1492.50" font-family="&quot;Liberation Sans&quot;, sans-serif" font-size="36.20" font-weight="normal" font-style="normal" fill="#000" textLength="166.00" lengthAdjust="spacingAndGlyphs" letter-spacing="2.46" filter="url(#d4)">оборудование</text>
<rect x="471.11" y="1431.30" width="427.89" height="65.30" fill="#fbb00a"/>
<rect x="1039.60" y="1429.30" width="37.46" height="65.00" fill="#00b2a9"/>
<path d="M971.36,1424.09 A38.85,38.85 0 0 1 986.83,1428.08" fill="none" stroke="#00b2a9" stroke-width="15.70"/>
<path d="M989.92,1429.79 A38.85,38.85 0 1 1 967.84,1424.09" fill="none" stroke="#fbb00a" stroke-width="15.70"/>
<text id="t70" x="514.50" y="1480.30" font-family="&quot;Liberation Sans&quot;, sans-serif" font-size="40.60" font-weight="bold" font-style="normal" fill="#404042" textLength="128.50" lengthAdjust="spacingAndGlyphs" letter-spacing="6.19" filter="url(#d9)">14 935,2</text>
<text id="t71" x="1069.50" y="1477.70" font-family="&quot;Liberation Sans&quot;, sans-serif" font-size="40.60" font-weight="bold" font-style="normal" fill="#404042" textLength="108.50" lengthAdjust="spacingAndGlyphs" letter-spacing="6.80" filter="url(#d10)">1 305,2</text>
</g>
<g id="row7">
<path d="M184.50,1561.15 A38.00,38.00 0 1 1 177.81,1549.47" fill="none" stroke="#bfbfbf" stroke-width="14.30"/>
<path d="M180.20,1552.65 A38.00,38.00 0 0 1 182.97,1557.48" fill="none" stroke="#52666d" stroke-width="14.30"/>
<text id="t72" x="133.00" y="1587.40" font-family="&quot;Liberation Sans&quot;, sans-serif" font-size="32.40" font-weight="bold" font-style="normal" fill="#52666d" textLength="36.50" lengthAdjust="spacingAndGlyphs" letter-spacing="2.84" filter="url(#d5)">4%</text>
<text id="t73" x="234.00" y="1590.80" font-family="&quot;Liberation Sans&quot;, sans-serif" font-size="36.20" font-weight="normal" font-style="normal" fill="#000" textLength="208.00" lengthAdjust="spacingAndGlyphs" letter-spacing="2.01" filter="url(#d3)">Готовые изделия</text>
<rect x="856.32" y="1536.80" width="42.68" height="64.70" fill="#fbb00a"/>
<rect x="1039.60" y="1534.60" width="34.31" height="64.90" fill="#00b2a9"/>
<path d="M971.36,1534.49 A38.85,38.85 0 0 1 984.35,1609.24" fill="none" stroke="#00b2a9" stroke-width="15.70"/>
<path d="M981.04,1610.43 A38.85,38.85 0 1 1 967.84,1534.49" fill="none" stroke="#f7b406" stroke-width="15.70"/>
<text id="t74" x="751.50" y="1586.60" font-family="&quot;Liberation Sans&quot;, sans-serif" font-size="40.60" font-weight="bold" font-style="normal" fill="#404042" textLength="107.50" lengthAdjust="spacingAndGlyphs" letter-spacing="6.88" filter="url(#d10)">1 489,8</text>
<text id="t75" x="1070.00" y="1583.10" font-family="&quot;Liberation Sans&quot;, sans-serif" font-size="40.60" font-weight="bold" font-style="normal" fill="#404042" textLength="108.50" lengthAdjust="spacingAndGlyphs" letter-spacing="6.80" filter="url(#d10)">1 195,6</text>
</g>
<g id="row8">
<path d="M184.31,1682.48 A38.00,38.00 0 1 1 175.91,1651.97" fill="none" stroke="#bfbfbf" stroke-width="14.30"/>
<path d="M178.30,1655.15 A38.00,38.00 0 0 1 184.74,1678.52" fill="none" stroke="#52666d" stroke-width="14.30"/>
<text id="t76" x="127.00" y="1686.90" font-family="&quot;Liberation Sans&quot;, sans-serif" font-size="32.40" font-weight="bold" font-style="normal" fill="#52666d" textLength="51.00" lengthAdjust="spacingAndGlyphs" letter-spacing="2.84" filter="url(#d5)">12%</text>
<text id="t77" x="235.00" y="1699.40" font-family="&quot;Liberation Sans&quot;, sans-serif" font-size="36.20" font-weight="normal" font-style="normal" fill="#000" textLength="82.00" lengthAdjust="spacingAndGlyphs" letter-spacing="1.99" filter="url(#d3)">Услуги</text>
<rect x="825.47" y="1642.00" width="73.53" height="65.00" fill="#fbb00a"/>
<rect x="1039.60" y="1640.00" width="148.66" height="64.50" fill="#00b2a9"/>
<path d="M934.00,1660.05 A38.85,38.85 0 1 1 976.93,1713.75" fill="none" stroke="#00b2a9" stroke-width="15.70"/>
<path d="M973.44,1714.26 A38.85,38.85 0 0 1 932.74,1663.34" fill="none" stroke="#fbb00a" stroke-width="15.70"/>
<text id="t78" x="702.50" y="1691.30" font-family="&quot;Liberation Sans&quot;, sans-serif" font-size="40.60" font-weight="bold" font-style="normal" fill="#404042" textLength="109.50" lengthAdjust="spacingAndGlyphs" letter-spacing="6.72" filter="url(#d10)">2 566,4</text>
<text id="t79" x="1057.50" y="1687.30" font-family="&quot;Liberation Sans&quot;, sans-serif" font-size="40.60" font-weight="bold" font-style="normal" fill="#404042" textLength="111.50" lengthAdjust="spacingAndGlyphs" letter-spacing="6.13" filter="url(#d9)">5 179,7</text>
</g>
<g id="row9">
<path d="M183.86,1790.22 A38.00,38.00 0 1 1 175.91,1757.37" fill="none" stroke="#bfbfbf" stroke-width="14.30"/>
<path d="M178.30,1760.55 A38.00,38.00 0 0 1 184.53,1786.30" fill="none" stroke="#52666d" stroke-width="14.30"/>
<text id="t80" x="127.00" y="1795.10" font-family="&quot;Liberation Sans&quot;, sans-serif" font-size="32.40" font-weight="bold" font-style="normal" fill="#52666d" textLength="48.50" lengthAdjust="spacingAndGlyphs" letter-spacing="3.35" filter="url(#d6)">13%</text>
<text id="t81" x="231.00" y="1792.80" font-family="&quot;Liberation Sans&quot;, sans-serif" font-size="36.20" font-weight="normal" font-style="normal" fill="#000" textLength="339.50" lengthAdjust="spacingAndGlyphs" letter-spacing="2.45" filter="url(#d4)">Прочие товары (вкл. золото)</text>
<rect x="896.40" y="1747.00" width="2.60" height="64.80" fill="#fbb00a"/>
<rect x="1039.60" y="1745.00" width="235.13" height="64.50" fill="#00b2a9"/>
<path d="M998.74,1755.91 A38.85,38.85 0 1 1 994.05,1751.41" fill="none" stroke="#00b2a9" stroke-width="15.70"/>
<text id="t82" x="822.50" y="1796.60" font-family="&quot;Liberation Sans&quot;, sans-serif" font-size="40.60" font-weight="bold" font-style="normal" fill="#404042" textLength="64.00" lengthAdjust="spacingAndGlyphs" letter-spacing="6.65" filter="url(#d10)">90,9</text>
<text id="t83" x="1146.50" y="1793.10" font-family="&quot;Liberation Sans&quot;, sans-serif" font-size="40.60" font-weight="bold" font-style="normal" fill="#404042" textLength="111.50" lengthAdjust="spacingAndGlyphs" letter-spacing="6.13" filter="url(#d9)">8 192,6</text>
</g>
</g>
<g id="footer">
<text id="t84" x="86.00" y="1872.50" font-family="&quot;Liberation Sans&quot;, sans-serif" font-size="24.50" font-weight="normal" font-style="italic" fill="#222" textLength="249.00" lengthAdjust="spacingAndGlyphs" letter-spacing="0.58" filter="url(#d2)">На основе данных Агентства</text>
<text id="t85" x="86.00" y="1902.70" font-family="&quot;Liberation Sans&quot;, sans-serif" font-size="24.50" font-weight="normal" font-style="italic" fill="#222" textLength="283.80" lengthAdjust="spacingAndGlyphs" letter-spacing="0.59" filter="url(#d2)">статистики при Президенте РУз</text>
<text id="t86" x="611.00" y="1888.50" font-family="&quot;Liberation Serif&quot;, serif" font-size="60.60" font-weight="normal" font-style="normal" fill="#4b8bb0" textLength="46.00" lengthAdjust="spacingAndGlyphs">C</text>
<text id="t87" x="655.50" y="1888.50" font-family="&quot;Liberation Serif&quot;, serif" font-size="60.60" font-weight="normal" font-style="normal" fill="#4b8bb0" textLength="33.50" lengthAdjust="spacingAndGlyphs">E</text>
<text id="t88" x="685.50" y="1888.50" font-family="&quot;Liberation Serif&quot;, serif" font-size="60.60" font-weight="normal" font-style="normal" fill="#4b8bb0" textLength="39.50" lengthAdjust="spacingAndGlyphs">R</text>
<text id="t89" x="726.00" y="1888.50" font-family="&quot;Liberation Serif&quot;, serif" font-size="60.60" font-weight="normal" font-style="normal" fill="#4b8bb0" textLength="37.00" lengthAdjust="spacingAndGlyphs">R</text>
<path d="M716.5,1871 C723,1885 733,1897 754.5,1902 C737,1901 724,1892 711,1872 Z" fill="#4b8bb0"/>
<path d="M744,1871 C752,1881 761,1888 772,1890.7 C760,1890.5 749,1884 739,1872 Z" fill="#4b8bb0"/>
<text id="t90" x="614.50" y="1896.60" font-family="&quot;Liberation Serif&quot;, serif" font-size="7.60" font-weight="normal" font-style="normal" fill="#4b8bb0" textLength="97.00" lengthAdjust="spacingAndGlyphs">CENTER FOR ECONOMIC</text>
<text id="t91" x="614.50" y="1904.00" font-family="&quot;Liberation Serif&quot;, serif" font-size="7.60" font-weight="normal" font-style="normal" fill="#4b8bb0" textLength="97.00" lengthAdjust="spacingAndGlyphs">RESEARCH AND REFORMS</text>
<text id="t92" x="1128.50" y="1870.40" font-family="&quot;Liberation Sans&quot;, sans-serif" font-size="21.50" font-weight="bold" font-style="normal" fill="#e5503f" textLength="192.50" lengthAdjust="spacingAndGlyphs">ЭКОНОМИЧЕСКОЕ</text>
<text id="t93" x="1127.50" y="1897.20" font-family="&quot;Liberation Sans&quot;, sans-serif" font-size="33.00" font-weight="bold" font-style="normal" fill="#e5503f" textLength="193.50" lengthAdjust="spacingAndGlyphs">ОБОЗРЕНИЕ</text>
</g>
<g id="icons">
<g transform="translate(910,880) scale(0.0857143)">
<path d="M400,322 Q470,312 520,282 Q650,222 800,250 Q834,262 834,300 L834,338 L480,338 Z" fill="#777777"/>
<g fill="none" stroke="#777777" stroke-width="27" stroke-linecap="round" stroke-linejoin="round">
<path d="M480,322 L405,322 Q366,330 366,377 Q366,428 408,436 L505,428"/>
<path d="M605,428 L690,421 M722,416 L820,409"/>
<path d="M402,515 Q368,700 388,885"/>
<path d="M376,915 Q352,945 364,968 Q372,985 400,985 L925,985"/>
</g>
<rect x="512" y="572" width="313" height="150" rx="18" fill="#777777"/>
<polygon points="875,385 975,450 1075,335 1075,790 975,880 875,790" fill="#fff"/>
<g fill="none" stroke="#777777" stroke-width="24" stroke-linecap="round" stroke-linejoin="round">
<path d="M875,185 L875,790 L975,880 L1075,790 L1075,185 M975,185 L975,1020"/>
<path d="M875,385 L975,450 L1075,335 M875,490 L975,585 L1075,490 M875,640 L975,735 L1075,640"/>
</g>
</g>
<g transform="translate(910,985) scale(0.0857143)">
<polygon points="360,548 640,385 672,422 760,420 1025,482 1050,512 1050,640 1020,700 1050,732 1050,860 780,1012 548,965 540,935 510,962 400,930 360,872" fill="#808080"/>
<g fill="none" stroke="#fff" stroke-width="15" stroke-linejoin="miter">
<path d="M360,556 L560,628 L770,642 L850,600 L800,552 L920,572 L1030,515"/>
<path d="M770,642 L770,1015"/>
<path d="M520,830 L610,805 L760,905 L845,855"/>
</g>
<polygon points="800,548 925,568 900,615" fill="#fff"/>
</g>
<g transform="translate(910,1090) scale(0.0857143)">
<path d="M415,470 L415,600 Q383,640 383,690 Q383,740 415,780 L415,862 Q385,885 390,930 Q400,1000 560,1035 Q720,1062 880,1035 Q1040,1000 1050,930 Q1052,885 1020,862 L1020,780 Q1052,740 1052,690 Q1052,640 1020,600 L1020,470 Z" fill="#777777"/>
<ellipse cx="718" cy="470" rx="334" ry="126" fill="#777777"/>
<ellipse cx="718" cy="476" rx="272" ry="82" fill="#fff"/>
<ellipse cx="590" cy="478" rx="54" ry="29" fill="#777777"/>
<path d="M720,652 Q832,790 832,848 A112,112 0 0 1 606,848 Q606,790 720,652 Z" fill="#fff"/>
</g>
<g transform="translate(910,1195) scale(0.0857143)">
<path d="M608,345 L828,345 L828,368 L808,368 L808,672 L1055,985 L380,985 L628,672 L628,368 L608,368 Z" fill="none" stroke="#777777" stroke-width="24" stroke-linejoin="round"/>
<polygon points="610,775 825,775 968,947 462,947" fill="#777777"/>
<circle cx="648" cy="868" r="56" fill="#fff"/><circle cx="790" cy="832" r="26" fill="#fff"/><circle cx="841" cy="897" r="15" fill="#fff"/>
</g>
<g transform="translate(910,1300) scale(0.0857143)">
<polygon points="780,306 1062,306 648,722 365,722" fill="#777777"/>
<polygon points="342,742 640,742 640,772 342,772" fill="#777777"/>
<rect x="465" y="770" width="46" height="205" fill="#777777"/>
<polygon points="338,975 632,962 632,1000 338,1002" fill="#777777"/>
<polygon points="660,742 962,442 962,520 1000,552 1045,546 1067,574 662,975 530,945 530,800 645,782" fill="#777777"/>
</g>
<g transform="translate(910,1405) scale(0.0857143)">
<polygon points="800.1,894.5 869.5,922.7 841.5,1003.9 769.5,983.4 711.9,1048.6 741.0,1117.6 663.7,1155.2 627.3,1089.8 540.5,1095.1 512.3,1164.5 431.1,1136.5 451.6,1064.5 386.4,1006.9 317.4,1036.0 279.8,958.7 345.2,922.3 339.9,835.5 270.5,807.3 298.5,726.1 370.5,746.6 428.1,681.4 399.0,612.4 476.3,574.8 512.7,640.2 599.5,634.9 627.7,565.5 708.9,593.5 688.4,665.5 753.6,723.1 822.6,694.0 860.2,771.3 794.8,807.7" fill="#777777"/>
<circle cx="570" cy="865" r="236" fill="#777777"/>
<circle cx="570" cy="865" r="119" fill="#fff"/><circle cx="570" cy="865" r="98" fill="none" stroke="#777777" stroke-width="12"/>
<polygon points="1053.4,470.1 1116.7,472.0 1116.7,538.0 1053.4,539.9 1028.8,599.4 1072.1,645.5 1025.5,692.1 979.4,648.8 919.9,673.4 918.0,736.7 852.0,736.7 850.1,673.4 790.6,648.8 744.5,692.1 697.9,645.5 741.2,599.4 716.6,539.9 653.3,538.0 653.3,472.0 716.6,470.1 741.2,410.6 697.9,364.5 744.5,317.9 790.6,361.2 850.1,336.6 852.0,273.3 918.0,273.3 919.9,336.6 979.4,361.2 1025.5,317.9 1072.1,364.5 1028.8,410.6" fill="#777777"/>
<circle cx="885" cy="505" r="176" fill="#777777"/>
<circle cx="885" cy="505" r="93" fill="#fff"/><circle cx="885" cy="505" r="74" fill="none" stroke="#777777" stroke-width="10"/>
</g>
<g transform="translate(910,1515) scale(0.0857143)">
<path d="M350,465 L600,375 A105,105 0 0 0 810,375 L1060,465 L990,602 L910,577 L910,967 L500,967 L500,577 L420,602 Z" fill="#808080"/>
<path d="M638,388 Q705,402 772,388 Q752,438 705,438 Q658,438 638,388 Z" fill="#808080"/>
</g>
<g transform="translate(910,1620) scale(0.0857143)">
<g stroke="#777777" fill="none" stroke-linecap="round">
<line x1="470" y1="860" x2="860" y2="490" stroke-width="84"/>
<line x1="545" y1="505" x2="770" y2="712" stroke-width="58"/>
<line x1="790" y1="728" x2="960" y2="888" stroke-width="118"/>
</g>
<circle cx="457" cy="873" r="86" fill="#777777"/><circle cx="457" cy="873" r="44" fill="#fff"/>
<circle cx="905" cy="447" r="146" fill="#777777"/>
<clipPath id="whead"><circle cx="905" cy="447" r="147"/></clipPath>
<g clip-path="url(#whead)"><circle cx="922" cy="420" r="52" fill="#fff"/><polygon points="885,385 960,455 1090,330 1010,250" fill="#fff"/></g>
<polygon points="375,378 430,326 578,402 602,468 520,542 452,520" fill="#777777"/>
</g>
<g transform="translate(910,1725) scale(0.0857143)">
<polygon points="255,785 335,590 830,330 1085,465 1150,635 560,952" fill="#808080"/>
<g fill="#fff">
<polygon points="346,640 396,662 336,728"/>
<polygon points="405,702 462,690 352,800 332,778"/>
<polygon points="460,848 545,768 548,898"/>
<polygon points="600,752 762,672 592,890"/>
<polygon points="702,838 882,600 792,792"/>
<polygon points="925,718 1040,522 1068,650"/>
<polygon points="1050,535 1078,486 1128,625 1075,648"/>
</g>
</g>
</g>
</svg>
</body></html>
